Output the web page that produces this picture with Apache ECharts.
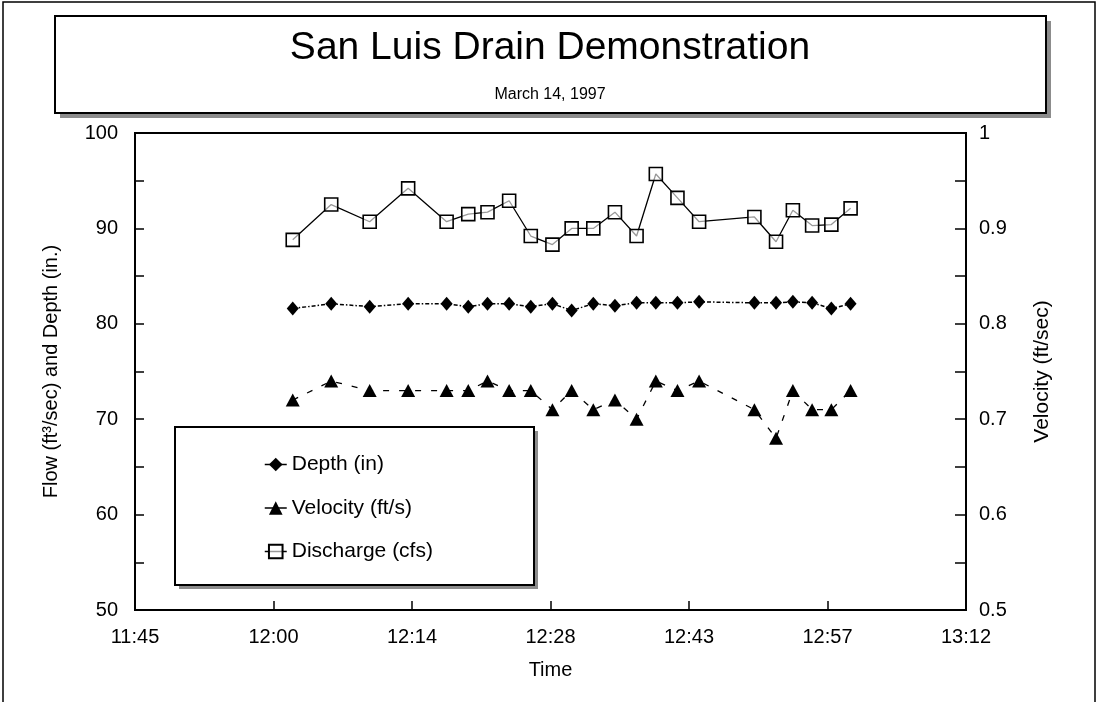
<!DOCTYPE html>
<html>
<head>
<meta charset="utf-8">
<title>San Luis Drain Demonstration</title>
<script src="https://cdn.jsdelivr.net/npm/echarts@6/dist/echarts.min.js"></script>
<style>
  html, body { margin: 0; padding: 0; background: #fff; }
  #chart { width: 1098px; height: 702px; }
</style>
</head>
<body>
<div id="chart"></div>
<script>
// Sample times (clock time, 14 March 1997)
const times = [
  '12:02:00', '12:06:00', '12:10:00', '12:14:00', '12:18:00', '12:20:15',
  '12:22:15', '12:24:30', '12:26:45', '12:29:00', '12:31:00', '12:33:15',
  '12:35:30', '12:37:45', '12:39:45', '12:42:00', '12:44:15', '12:50:00',
  '12:52:15', '12:54:00', '12:56:00', '12:58:00', '13:00:00'
];
// Depth (in)
const depth = [
  81.6, 82.1, 81.8, 82.1, 82.1, 81.8, 82.1, 82.1, 81.8, 82.1, 81.4, 82.1,
  81.9, 82.2, 82.2, 82.2, 82.3, 82.2, 82.2, 82.3, 82.2, 81.6, 82.1
];
// Velocity (ft/s), right axis
const velocity = [
  0.72, 0.74, 0.73, 0.73, 0.73, 0.73, 0.74, 0.73, 0.73, 0.71, 0.73, 0.71,
  0.72, 0.70, 0.74, 0.73, 0.74, 0.71, 0.68, 0.73, 0.71, 0.71, 0.73
];
// Discharge (cfs)
const discharge = [
  88.8, 92.5, 90.7, 94.2, 90.7, 91.5, 91.7, 92.9, 89.2, 88.3, 90.0, 90.0,
  91.7, 89.2, 95.7, 93.2, 90.7, 91.2, 88.6, 91.9, 90.3, 90.4, 92.1
];
// Time axis labels (one per 0.01 day step)
const xTickLabels = ['11:45', '12:00', '12:14', '12:28', '12:43', '12:57', '13:12'];
const seriesNames = ['Depth (in)', 'Velocity (ft/s)', 'Discharge (cfs)'];

const FONT = 'Liberation Sans, Arial, Helvetica, sans-serif';

// clock string -> minutes after midnight
function toMinutes(t) {
  const p = t.split(':').map(Number);
  return p[0] * 60 + p[1] + (p[2] || 0) / 60;
}
const xs = times.map(toMinutes);
const pairs = arr => arr.map((v, i) => [xs[i], v]);

// axis runs from 0.49 to 0.55 of a day in steps of 0.01 day (14.4 min)
const xStep = 14.4;
const xMin = 49 * xStep;
const xMax = xMin + (xTickLabels.length - 1) * xStep;

const chart = echarts.init(document.getElementById('chart'), null, { renderer: 'canvas' });

const axisLine = { show: true, lineStyle: { color: '#000', width: 2 } };
const labelStyle = { color: '#000', fontSize: 20, fontFamily: FONT };

chart.setOption({
  backgroundColor: '#fff',
  animation: false,
  graphic: [
    // page frame
    { type: 'rect', z: 0, shape: { x: 3, y: 2, width: 1092, height: 740 },
      style: { fill: 'none', stroke: '#000', lineWidth: 1.5 } },
    // title box with drop shadow
    { type: 'rect', z: 1, shape: { x: 60, y: 21, width: 991, height: 97 },
      style: { fill: '#8c8c8c' } },
    { type: 'rect', z: 2, shape: { x: 55, y: 16, width: 991, height: 97 },
      style: { fill: '#fff', stroke: '#000', lineWidth: 2 } },
    { type: 'text', z: 3, x: 550, y: 48,
      style: { text: 'San Luis Drain Demonstration', font: '39px ' + FONT,
               fill: '#000', align: 'center', verticalAlign: 'middle' } },
    { type: 'text', z: 3, x: 550, y: 95,
      style: { text: 'March 14, 1997', font: '16px ' + FONT,
               fill: '#000', align: 'center', verticalAlign: 'middle' } },
    // legend box with drop shadow
    { type: 'rect', z: 10, shape: { x: 179, y: 431, width: 359, height: 158 },
      style: { fill: '#8c8c8c' } },
    { type: 'rect', z: 11, shape: { x: 175, y: 427, width: 359, height: 158 },
      style: { fill: '#fff', stroke: '#000', lineWidth: 2 } }
  ],
  legend: {
    z: 20,
    orient: 'vertical',
    left: 264,
    top: 454,
    itemWidth: 22,
    itemHeight: 17,
    itemGap: 22.5,
    padding: 0,
    data: seriesNames,
    lineStyle: { type: 'solid', width: 1.5 },
    textStyle: { color: '#000', fontSize: 21, fontFamily: FONT }
  },
  grid: {
    left: 135, right: 132, top: 133, bottom: 92,
    show: true, borderColor: '#000', borderWidth: 2, backgroundColor: 'transparent'
  },
  xAxis: {
    type: 'value',
    min: xMin,
    max: xMax,
    interval: xStep,
    name: 'Time',
    nameLocation: 'middle',
    nameGap: 50,
    nameTextStyle: { color: '#000', fontSize: 20, fontFamily: FONT },
    axisLine: axisLine,
    axisTick: { show: true, inside: true, length: 9, lineStyle: { color: '#000', width: 1.5 } },
    axisLabel: Object.assign({}, labelStyle, {
      margin: 17,
      formatter: v => xTickLabels[Math.round((v - xMin) / xStep)] || ''
    }),
    splitLine: { show: false }
  },
  yAxis: [
    {
      type: 'value',
      min: 50, max: 100, interval: 5,
      name: 'Flow (ft³/sec) and Depth (in.)',
      nameLocation: 'middle',
      nameRotate: 90,
      nameGap: 74,
      nameTextStyle: { color: '#000', fontSize: 20, fontFamily: FONT },
      axisLine: axisLine,
      axisTick: { show: true, inside: true, length: 9, lineStyle: { color: '#000', width: 1.5 } },
      axisLabel: Object.assign({}, labelStyle, {
        margin: 17,
        formatter: v => (Math.round(v) % 10 === 0 ? String(Math.round(v)) : '')
      }),
      splitLine: { show: false }
    },
    {
      type: 'value',
      position: 'right',
      min: 0.5, max: 1, interval: 0.05,
      name: 'Velocity (ft/sec)',
      nameLocation: 'middle',
      nameRotate: 90,
      nameGap: 66,
      nameTextStyle: { color: '#000', fontSize: 21, fontFamily: FONT },
      axisLine: axisLine,
      axisTick: { show: true, inside: true, length: 11, lineStyle: { color: '#000', width: 1.5 } },
      axisLabel: Object.assign({}, labelStyle, {
        margin: 13,
        formatter: v => {
          const t = Math.round(v * 20);
          return t % 2 === 0 ? String(t / 20) : '';
        }
      }),
      splitLine: { show: false }
    }
  ],
  series: [
    {
      name: seriesNames[0],
      type: 'line',
      data: pairs(depth),
      symbol: 'diamond',
      symbolSize: [12, 14],
      itemStyle: { color: '#000' },
      lineStyle: { color: '#000', width: 1.5, type: [4, 2, 1.5, 2] },
      z: 3
    },
    {
      name: seriesNames[1],
      type: 'line',
      yAxisIndex: 1,
      data: pairs(velocity),
      symbol: 'triangle',
      symbolSize: [14, 13],
      itemStyle: { color: '#000' },
      lineStyle: { color: '#000', width: 1.3, type: [6, 10] },
      z: 3
    },
    {
      name: seriesNames[2],
      type: 'line',
      data: pairs(discharge),
      symbol: 'rect',
      symbolSize: 13,
      itemStyle: { color: 'rgba(255,255,255,0.6)', borderColor: '#000', borderWidth: 1.6 },
      lineStyle: { color: '#000', width: 1.3, type: 'solid' },
      z: 3
    }
  ]
});
</script>
</body>
</html>
